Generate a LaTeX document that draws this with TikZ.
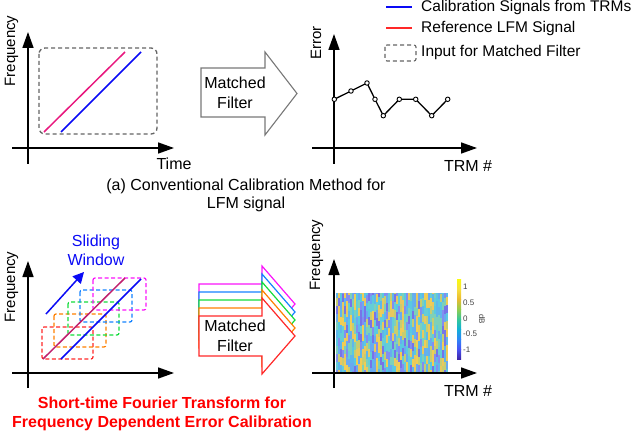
\documentclass[tikz,border=0pt]{standalone}
\usepackage{fontspec}
\setmainfont{Liberation Sans}
\usetikzlibrary{arrows.meta}
\definecolor{sigblue}{RGB}{10,10,245}
\definecolor{sigpink}{RGB}{232,24,126}
\definecolor{sigmag}{RGB}{192,32,110}
\definecolor{legred}{RGB}{255,40,40}
\definecolor{boxgray}{RGB}{100,100,100}
\definecolor{mfgray}{RGB}{120,120,120}
\definecolor{wred}{RGB}{255,40,40}
\definecolor{worange}{RGB}{255,128,0}
\definecolor{wgreen}{RGB}{20,220,60}
\definecolor{wblue}{RGB}{20,130,255}
\definecolor{wmag}{RGB}{250,20,250}
\definecolor{hm0}{RGB}{118,116,232}
\definecolor{hm1}{RGB}{130,142,240}
\definecolor{hm2}{RGB}{105,170,240}
\definecolor{hm3}{RGB}{95,182,235}
\definecolor{hm4}{RGB}{90,200,225}
\definecolor{hm5}{RGB}{100,205,215}
\definecolor{hm6}{RGB}{125,208,185}
\definecolor{hm7}{RGB}{240,205,85}
\definecolor{hm8}{RGB}{232,200,95}
\definecolor{hm9}{RGB}{198,205,112}
\definecolor{pa0}{rgb}{0.2422,0.1504,0.6603}
\definecolor{pa1}{rgb}{0.2810,0.3228,0.9578}
\definecolor{pa2}{rgb}{0.1786,0.5289,0.9682}
\definecolor{pa3}{rgb}{0.0689,0.6948,0.8394}
\definecolor{pa4}{rgb}{0.2161,0.7843,0.5923}
\definecolor{pa5}{rgb}{0.5772,0.8031,0.3078}
\definecolor{pa6}{rgb}{0.9187,0.7308,0.1890}
\definecolor{pa7}{rgb}{0.9657,0.8779,0.2450}
\definecolor{pa8}{rgb}{0.9763,0.9831,0.0538}
\begin{document}
\begin{tikzpicture}[x=1pt,y=-1pt,
  axis/.style={line width=1.6pt,-{Triangle[length=16pt,width=11pt]}},
  lbl/.style={font=\fontsize{16}{19}\selectfont,inner sep=0pt,align=center},
  ylbl/.style={font=\fontsize{15}{18}\selectfont,inner sep=0pt,rotate=90,anchor=base},
  leg/.style={font=\fontsize{15.5}{18}\selectfont,inner sep=0pt,anchor=west},
  sig/.style={line width=1.5pt},
  inbox/.style={draw=boxgray,line width=1.3pt,dash pattern=on 4pt off 3pt,rounded corners=6pt},
  win/.style={line width=1.2pt,dash pattern=on 4pt off 2.5pt,rounded corners=2pt},
  mfarrow/.style={line width=1.2pt,fill=white},
  pt/.style={circle,draw=black,fill=white,line width=0.9pt,inner sep=0pt,minimum size=4.5pt}
]
\useasboundingbox (0,0) rectangle (640,433);

% ===== Top left panel =====
\coordinate (a1o) at (28,164);
\coordinate (a1t) at (28,32);
\coordinate (a1l) at (12,148);
\coordinate (a1r) at (174,148);
\draw[axis] (a1o) -- (a1t);
\draw[axis] (a1l) -- (a1r);
\node[ylbl] (f1) at (15,51) {Frequency};
\node[lbl] (time) at (174,164) {Time};
\draw[inbox] (39,48) rectangle (157,134);
\coordinate (p1s) at (44,132); \coordinate (p1e) at (125,52);
\coordinate (b1s) at (61,132); \coordinate (b1e) at (141,52);
\draw[sig,sigpink] (p1s) -- (p1e);
\draw[sig,sigblue] (b1s) -- (b1e);

% matched filter arrow (top)
\draw[line width=1.1pt,draw=mfgray,fill=white]
  (201,68) -- (265,68) -- (265,52) -- (297,93.5) -- (265,135) -- (265,117) -- (201,117) -- cycle;
\node[lbl,font=\fontsize{16}{20}\selectfont] (mf1) at (235,93) {Matched\\Filter};

% ===== Top right panel =====
\coordinate (a2o) at (334,164);
\coordinate (a2t) at (334,34);
\coordinate (a2l) at (312,148);
\coordinate (a2r) at (477,148);
\draw[axis] (a2o) -- (a2t);
\draw[axis] (a2l) -- (a2r);
\node[ylbl] (err) at (321,43) {Error};
\node[lbl] (trm1) at (468,166) {TRM \#};
\draw[line width=1.3pt] (334.3,99.3) -- (351,91) -- (367,83) -- (375,99.3) -- (383.3,115.7) -- (399.3,99.3) -- (415.7,99.3) -- (431.7,115.7) -- (447.7,99.3);
\foreach \px/\py [count=\n] in {334.3/99.3,351/91,367/83,375/99.3,383.3/115.7,399.3/99.3,415.7/99.3,431.7/115.7,447.7/99.3}
  \node[pt] (e\n) at (\px,\py) {};

% legend
\coordinate (lg1a) at (386,7); \coordinate (lg1b) at (412,7);
\coordinate (lg2a) at (386,28); \coordinate (lg2b) at (412,28);
\draw[sig,sigblue] (lg1a) -- (lg1b);
\draw[sig,legred] (lg2a) -- (lg2b);
\draw[draw=boxgray,line width=1.1pt,dash pattern=on 4pt off 3pt,rounded corners=2pt] (385,45) rectangle (416,61);
\node[leg] (l1) at (421,7.5) {Calibration Signals from TRMs};
\node[leg] (l2) at (421,28) {Reference LFM Signal};
\node[leg] (l3) at (421,52.5) {Input for Matched Filter};

% caption (a)
\node[lbl,font=\fontsize{16}{18}\selectfont] (capa) at (246,195) {(a) Conventional Calibration Method for\\LFM signal};

% ===== Bottom left panel =====
\coordinate (a3o) at (28,388);
\coordinate (a3t) at (28,261);
\coordinate (a3l) at (12,373);
\coordinate (a3r) at (174,373);
\draw[axis] (a3o) -- (a3t);
\draw[axis] (a3l) -- (a3r);
\node[ylbl] (f3) at (15,287) {Frequency};
\node[lbl,text=sigblue] (slide) at (96,250.5) {Sliding\\Window};
\coordinate (swa) at (46,314); \coordinate (swb) at (84,272);
\draw[line width=1.5pt,sigblue,-{Triangle[length=11pt,width=11pt]}] (swa) -- (swb);
\draw[win,wred] (42,327) rectangle (93,359);
\draw[win,worange] (54,314) rectangle (106,347);
\draw[win,wgreen] (68,302) rectangle (119,335);
\draw[win,wblue] (80,290) rectangle (132,322);
\draw[win,wmag] (93,278) rectangle (146,310);
\coordinate (p3s) at (43,359); \coordinate (p3e) at (125,278);
\coordinate (b3s) at (61,359); \coordinate (b3e) at (141,279);
\draw[sig,sigmag] (p3s) -- (p3e);
\draw[sig,sigblue] (b3s) -- (b3e);

% stacked matched filter arrows
\foreach \c/\t in {wmag/284,wblue/292,wgreen/300,worange/308,wred/316}
  \draw[mfarrow,draw=\c] (199,\t) -- (262,\t) -- (262,\t-18) -- (295,\t+20) -- (262,\t+58) -- (262,\t+40) -- (199,\t+40) -- cycle;
\node[lbl,font=\fontsize{16}{20}\selectfont] (mf2) at (235,336) {Matched\\Filter};

\node[lbl,text=red,font=\bfseries\fontsize{16}{19}\selectfont] (capb) at (162,413.5) {Short-time Fourier Transform for\\Frequency Dependent Error Calibration};

% ===== Bottom right panel =====
\pgfmathsetseed{11}
\begin{scope}
\clip (336,293) rectangle (448,372);
\foreach \i in {0,...,55} {
  \pgfmathrandominteger{\o}{0}{8}
  \foreach \j in {0,...,10} {
    \pgfmathrandominteger{\k}{0}{9}
    \fill[hm\k] (336+\i*2,293-\o+\j*8) rectangle ++(2.2,8.1);
  }
}
\end{scope}
\coordinate (a4o) at (334,388);
\coordinate (a4t) at (334,259);
\coordinate (a4l) at (312,373);
\coordinate (a4r) at (477,373);
\draw[axis] (a4o) -- (a4t);
\draw[axis] (a4l) -- (a4r);
\node[ylbl] (f4) at (320,255) {Frequency};
\node[lbl] (trm2) at (468,391) {TRM \#};
\foreach \k [evaluate=\k as \kn using int(\k+1)] in {0,...,7}
  \shade[bottom color=pa\k,top color=pa\kn,shading angle=0] (457,359-\k*10) rectangle (461,349-\k*10);
\foreach \v/\yy in {1/287,0.5/303,0/319,-0.5/334,-1/350}
  \node[font=\fontsize{8}{9}\selectfont,inner sep=0pt,anchor=west,text=black!75] (cb\yy) at (463,\yy) {\v};
\node[font=\fontsize{8}{9}\selectfont,inner sep=0pt,rotate=-90,text=black!75] (db) at (482,319) {dB};
\end{tikzpicture}
\end{document}
